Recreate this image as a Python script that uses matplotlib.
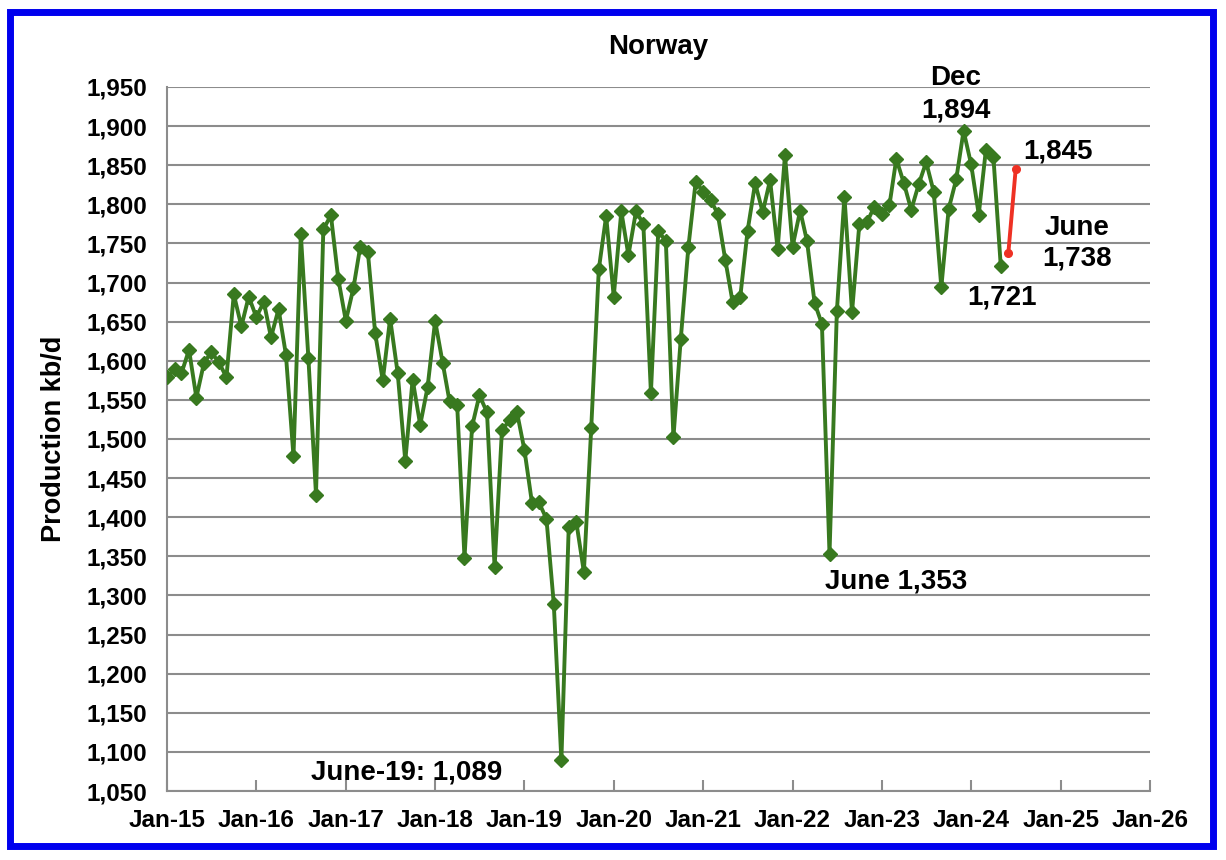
import numpy as np
import pandas as pd
import matplotlib
matplotlib.use("Agg")
import matplotlib.pyplot as plt
import matplotlib.dates as mdates
from matplotlib.patches import Rectangle

plt.rcParams['font.family'] = ['Liberation Sans', 'DejaVu Sans']
plt.rcParams['font.weight'] = 'bold'

# monthly production kb/d, Jan 2015 .. May 2024
production = [
    1579, 1589, 1584, 1614, 1553, 1597, 1611, 1598, 1579, 1685, 1644, 1682,
    1656, 1675, 1630, 1666, 1608, 1478, 1762, 1603, 1429, 1768, 1786, 1705,
    1651, 1693, 1746, 1739, 1635, 1575, 1654, 1584, 1472, 1576, 1518, 1566,
    1651, 1597, 1548, 1544, 1348, 1516, 1556, 1534, 1336, 1511, 1524, 1535,
    1486, 1418, 1419, 1398, 1289, 1089, 1387, 1394, 1330, 1514, 1717, 1785,
    1682, 1791, 1735, 1791, 1775, 1559, 1766, 1753, 1502, 1628, 1745, 1829,
    1816, 1805, 1788, 1729, 1675, 1681, 1766, 1827, 1790, 1831, 1743, 1863,
    1746, 1792, 1753, 1674, 1647, 1353, 1663, 1810, 1662, 1775, 1777, 1797,
    1788, 1799, 1858, 1827, 1793, 1826, 1854, 1816, 1694, 1794, 1832, 1894,
    1851, 1787, 1869, 1860, 1721,
]
months = pd.date_range("2015-01-01", periods=len(production), freq="MS")

# June / July 2024
recent = [1738, 1845]
recent_months = pd.date_range("2024-06-01", periods=len(recent), freq="MS")

green = '#38791f'
red = '#ee3124'
grid_gray = '#8c8c8c'

fig = plt.figure(figsize=(12.26, 8.6), dpi=100)
ax = fig.add_axes([167 / 1226, 1 - 791 / 860, (1150 - 167) / 1226, (791 - 87) / 860])

ax.plot(months, production, color=green, lw=2.8, marker='D', ms=7, zorder=3)
ax.plot(recent_months, recent, color=red, lw=2.8, marker='o', ms=5.5, zorder=3)

ax.set_xlim(pd.Timestamp("2015-01-01"), pd.Timestamp("2026-01-01"))
ax.set_ylim(1050, 1950)
ax.set_yticks(np.arange(1050, 1951, 50))
ax.yaxis.set_major_formatter(matplotlib.ticker.FuncFormatter(lambda v, p: f"{int(v):,}"))
ax.xaxis.set_major_locator(mdates.YearLocator())
ax.xaxis.set_major_formatter(mdates.DateFormatter('%b-%y'))

ax.grid(axis='y', color=grid_gray, lw=1.5)
ax.set_axisbelow(True)
for s in ['top', 'right']:
    ax.spines[s].set_visible(False)
for s in ['left', 'bottom']:
    ax.spines[s].set_color(grid_gray)
    ax.spines[s].set_linewidth(1.5)
ax.tick_params(axis='y', length=0, labelsize=17.5, pad=14)
ax.tick_params(axis='x', direction='in', length=8, color=grid_gray, width=1.5,
               labelsize=17.5, pad=13)

ax.set_title("Norway", fontsize=20, fontweight='bold', pad=24)
ax.set_ylabel("Production kb/d", fontsize=19.5, fontweight='bold', labelpad=14)

def at(year_frac):
    return pd.Timestamp("2015-01-01") + pd.Timedelta(days=(year_frac - 2015) * 365.25)

fs = 20
ax.text(at(2017.68), 1074, "June-19: 1,089", fontsize=fs, fontweight='bold', ha='center', va='center')
ax.text(at(2022.36), 1318, "June 1,353", fontsize=fs, fontweight='bold', ha='left', va='center')
ax.text(at(2023.83), 1961, "Dec", fontsize=fs, fontweight='bold', ha='center', va='center', clip_on=False)
ax.text(at(2023.83), 1920, "1,894", fontsize=fs, fontweight='bold', ha='center', va='center')
ax.text(at(2024.97), 1867, "1,845", fontsize=fs, fontweight='bold', ha='center', va='center')
ax.text(at(2025.18), 1770, "June", fontsize=fs, fontweight='bold', ha='center', va='center')
ax.text(at(2025.18), 1731, "1,738", fontsize=fs, fontweight='bold', ha='center', va='center')
ax.text(at(2024.35), 1681, "1,721", fontsize=fs, fontweight='bold', ha='center', va='center')

# blue frame around the chart
fig.patches.append(Rectangle((10 / 1226, 1 - 846 / 860), (1213 - 10) / 1226, (846 - 12) / 860,
                             transform=fig.transFigure, fill=False, edgecolor='#0000ee', lw=5))

fig.savefig("out.png", dpi=100)
